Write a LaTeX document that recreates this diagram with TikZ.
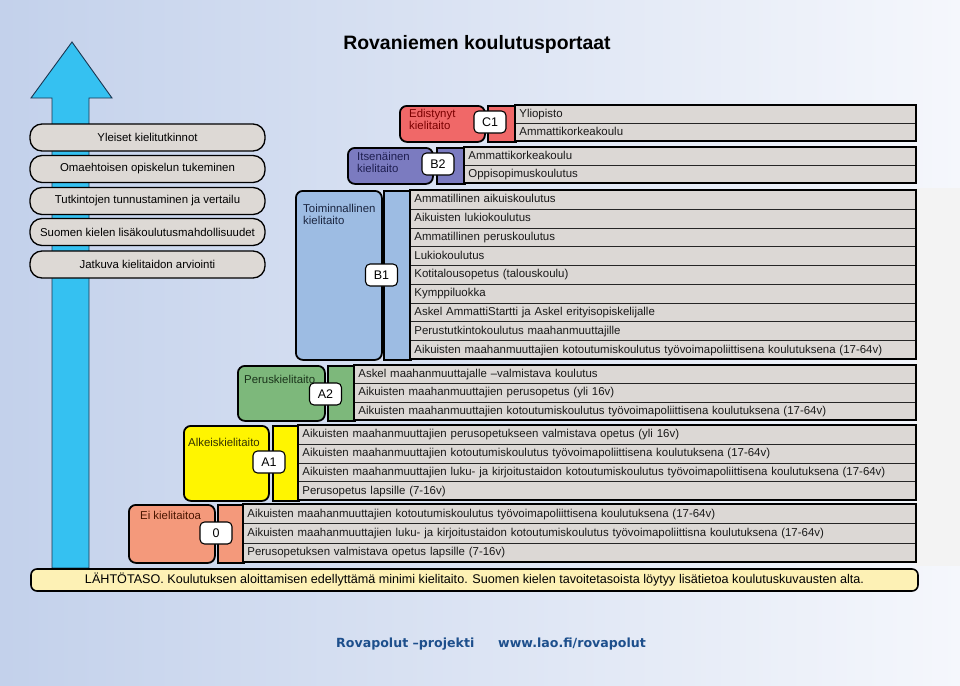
\documentclass[tikz,border=0pt]{standalone}
\usepackage{fontspec}
\setmainfont{Liberation Sans}
\newfontfamily\footfont{DejaVu Sans}
\definecolor{bgL}{HTML}{C3D1EB}
\definecolor{bgR}{HTML}{F5F7FC}
\definecolor{panelgray}{HTML}{F3F3F3}
\definecolor{arrowcol}{HTML}{35C1F1}
\definecolor{arrowline}{HTML}{1B3550}
\definecolor{pillcol}{HTML}{DDD9D5}
\definecolor{rowgray}{HTML}{DCD8D5}
\definecolor{lahto}{HTML}{FDF1B5}
\definecolor{c1col}{HTML}{F06868}
\definecolor{b2col}{HTML}{7B7BC0}
\definecolor{b1col}{HTML}{9DBCE3}
\definecolor{a2col}{HTML}{7DB87B}
\definecolor{a1col}{HTML}{FFF500}
\definecolor{a0col}{HTML}{F4997B}
\definecolor{c1txt}{HTML}{7A0000}
\definecolor{b2txt}{HTML}{1E1E50}
\definecolor{b1txt}{HTML}{1A2540}
\definecolor{a2txt}{HTML}{1A331A}
\definecolor{a1txt}{HTML}{333300}
\definecolor{a0txt}{HTML}{4A1500}
\definecolor{footblue}{HTML}{1D4F8C}
\newcommand\rowsblock[7]{%
  \pgfmathsetmacro\rbw{#4-#2}%
  \pgfmathsetmacro\rbtw{#4-#2-8}%
  \pgfmathsetmacro\rbh{(#5-#3)/#6}%
  \foreach \rtxt [count=\ri] in {#7}{%
    \node[rowbox, minimum width=\rbw pt, minimum height=\rbh pt, text width=\rbtw pt] (#1-\ri) at (#2, {#3+(\ri-1)*\rbh}) {\rtxt};
  }
  \draw[line width=1.7pt] (#2,#3) rectangle (#4,#5);
}
\begin{document}
\begin{tikzpicture}[x=1pt,y=-1pt,
  rowbox/.style={draw=black!85, line width=0.8pt, fill=rowgray, anchor=north west,
    inner xsep=4pt, inner ysep=0pt, align=left, text height=8.4pt, text depth=2.4pt,
    font=\fontsize{11.45}{13}\selectfont, text=black!90},
  lvlbox/.style={draw=black, line width=1.8pt, rounded corners=7pt, anchor=north west, inner sep=0pt},
  stripbox/.style={draw=black, line width=1.7pt, anchor=north west, inner sep=0pt},
  lbl/.style={anchor=north west, inner sep=0pt, align=left, font=\fontsize{11.4}{12.5}\selectfont},
  badge/.style={draw=black, line width=1.1pt, fill=white, rounded corners=4.5pt,
    minimum width=32pt, minimum height=22pt, inner sep=0pt, font=\fontsize{12.5}{14}\selectfont},
  pill/.style={draw=black, line width=1.3pt, fill=pillcol, rounded corners=12pt,
    minimum width=235pt, minimum height=27pt, inner sep=0pt, font=\fontsize{11.4}{13}\selectfont}
]
\useasboundingbox (0,0) rectangle (960,685);
\shade[left color=bgL, right color=bgR] (0,0) rectangle (960,685);
\fill[panelgray] (916,188) rectangle (960,566);

% title
\node[font=\fontsize{19.4}{22}\selectfont\bfseries] (title) at (477,44) {Rovaniemen koulutusportaat};

% arrow
\draw[fill=arrowcol, draw=arrowline, line width=0.9pt]
  (31,98) -- (72,42) -- (112,98) -- (89,98) -- (89,568) -- (52,568) -- (52,98) -- cycle;

% pills
\node[pill] (p1) at (147.5,137.5) {Yleiset kielitutkinnot};
\node[pill] (p2) at (147.5,169) {Omaehtoisen opiskelun tukeminen};
\node[pill] (p3) at (147.5,201) {Tutkintojen tunnustaminen ja vertailu};
\node[pill] (p4) at (147.5,232) {Suomen kielen lisäkoulutusmahdollisuudet};
\node[pill] (p5) at (147.5,264.5) {Jatkuva kielitaidon arviointi};

% C1
\node[lvlbox, fill=c1col, minimum width=85pt, minimum height=36pt] (c1box) at (399,105) {};
\node[lbl, text=c1txt] (c1lbl) at (409,109) {Edistynyt\\kielitaito};
\node[stripbox, fill=c1col, minimum width=28pt, minimum height=36pt] (c1strip) at (487,105) {};
\rowsblock{c1r}{515}{105}{916}{141}{2}{Yliopisto,Ammattikorkeakoulu}
\node[badge] (c1badge) at (490,122) {C1};

% B2
\node[lvlbox, fill=b2col, minimum width=85pt, minimum height=36pt] (b2box) at (347,147) {};
\node[lbl, text=b2txt] (b2lbl) at (357,152) {Itsenäinen\\kielitaito};
\node[stripbox, fill=b2col, minimum width=28pt, minimum height=36pt] (b2strip) at (436,147) {};
\rowsblock{b2r}{464}{147}{916}{183}{2}{Ammattikorkeakoulu,Oppisopimuskoulutus}
\node[badge] (b2badge) at (438,164) {B2};

% B1
\node[lvlbox, fill=b1col, minimum width=86pt, minimum height=169pt] (b1box) at (295,190) {};
\node[lbl, text=b1txt] (b1lbl) at (303,204) {Toiminnallinen\\kielitaito};
\node[stripbox, fill=b1col, minimum width=27pt, minimum height=169pt] (b1strip) at (383,190) {};
\rowsblock{b1r}{410}{190}{916}{359}{9}{Ammatillinen aikuiskoulutus,Aikuisten lukiokoulutus,Ammatillinen peruskoulutus,Lukiokoulutus,Kotitalousopetus (talouskoulu),Kymppiluokka,Askel AmmattiStartti ja Askel erityisopiskelijalle,Perustutkintokoulutus maahanmuuttajille,Aikuisten maahanmuuttajien kotoutumiskoulutus työvoimapoliittisena koulutuksena (17-64v)}
\node[badge] (b1badge) at (381.5,275) {B1};

% A2
\node[lvlbox, fill=a2col, minimum width=87pt, minimum height=55pt] (a2box) at (237,365) {};
\node[lbl, text=a2txt] (a2lbl) at (244,375) {Peruskielitaito};
\node[stripbox, fill=a2col, minimum width=27pt, minimum height=55pt] (a2strip) at (327,365) {};
\rowsblock{a2r}{354}{365}{916}{420}{3}{Askel maahanmuuttajalle –valmistava koulutus,Aikuisten maahanmuuttajien perusopetus (yli 16v),Aikuisten maahanmuuttajien kotoutumiskoulutus työvoimapoliittisena koulutuksena (17-64v)}
\node[badge] (a2badge) at (325.5,394) {A2};

% A1
\node[lvlbox, fill=a1col, minimum width=85pt, minimum height=75pt] (a1box) at (183,425) {};
\node[lbl, text=a1txt] (a1lbl) at (188,438) {Alkeiskielitaito};
\node[stripbox, fill=a1col, minimum width=26pt, minimum height=75pt] (a1strip) at (272,425) {};
\rowsblock{a1r}{298}{425}{916}{500}{4}{Aikuisten maahanmuuttajien perusopetukseen valmistava opetus (yli 16v),Aikuisten maahanmuuttajien kotoutumiskoulutus työvoimapoliittisena koulutuksena (17-64v),Aikuisten maahanmuuttajien luku- ja kirjoitustaidon kotoutumiskoulutus työvoimapoliittisena koulutuksena (17-64v),Perusopetus lapsille (7-16v)}
\node[badge] (a1badge) at (269,462) {A1};

% 0
\node[lvlbox, fill=a0col, minimum width=86pt, minimum height=58pt] (a0box) at (128,504) {};
\node[lbl, text=a0txt] (a0lbl) at (140,511) {Ei kielitaitoa};
\node[stripbox, fill=a0col, minimum width=26pt, minimum height=58pt] (a0strip) at (217,504) {};
\rowsblock{a0r}{243}{504}{916}{562}{3}{Aikuisten maahanmuuttajien kotoutumiskoulutus työvoimapoliittisena koulutuksena (17-64v),Aikuisten maahanmuuttajien luku- ja kirjoitustaidon kotoutumiskoulutus työvoimapoliittisna koulutuksena (17-64v),Perusopetuksen valmistava opetus lapsille (7-16v)}
\node[badge] (a0badge) at (216,533) {0};

% base bar
\node[draw=black, line width=1.6pt, fill=lahto, rounded corners=6pt, minimum width=887pt, minimum height=22pt,
  inner sep=0pt, font=\fontsize{12.6}{14}\selectfont] (lahtotaso) at (474.5,580)
  {LÄHTÖTASO. Koulutuksen aloittamisen edellyttämä minimi kielitaito. Suomen kielen tavoitetasoista löytyy lisätietoa koulutuskuvausten alta.};

% footer
\node[font=\footfont\bfseries\fontsize{12.6}{14}\selectfont, text=footblue, anchor=west, inner sep=0pt] (foot1) at (336,644) {Rovapolut –projekti};
\node[font=\footfont\bfseries\fontsize{12.6}{14}\selectfont, text=footblue, anchor=west, inner sep=0pt] (foot2) at (498,644) {www.lao.fi/rovapolut};
\end{tikzpicture}
\end{document}
